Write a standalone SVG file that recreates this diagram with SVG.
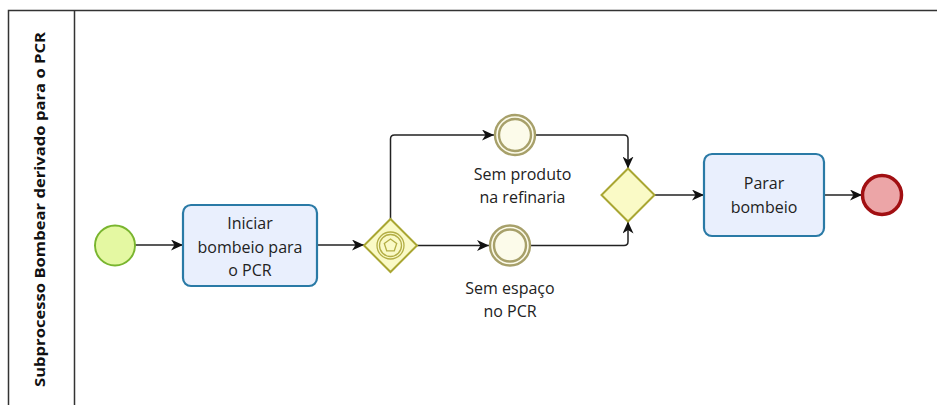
<svg xmlns="http://www.w3.org/2000/svg" width="937" height="405" viewBox="0 0 937 405">
  <style>
    .pool { fill: none; stroke: #333; stroke-width: 1.5; }
    .lbl { font-family: "Open Sans", "Liberation Sans", sans-serif; font-size: 16px; fill: #222; text-anchor: middle; }
    .pool-lbl { font-family: "Open Sans", "Liberation Sans", sans-serif; font-size: 14.5px; font-weight: bold; fill: #111; text-anchor: middle; }
    .task { fill: #e9effd; stroke: #2a7aa6; stroke-width: 2.2; }
    .gw { fill: #fafac6; stroke: #a9a632; stroke-width: 2; }
    .gw-mark { fill: none; stroke: #b3ae45; stroke-width: 1.3; }
    .ev-start { fill: #e4f8a2; stroke: #79b52f; stroke-width: 2; }
    .ev-mid { fill: #fcfbea; stroke: #a7a06a; stroke-width: 2.4; }
    .ev-end { fill: #eca5a7; stroke: #a10f12; stroke-width: 3.5; }
    .flow { fill: none; stroke: #222; stroke-width: 1.5; marker-end: url(#arrow); }
  </style>
  <defs>
    <marker id="arrow" markerUnits="userSpaceOnUse" markerWidth="13" markerHeight="11" refX="12" refY="5.5" orient="auto">
      <path d="M0,0 L12,5.5 L0,11 L3.5,5.5 Z" fill="#111"/>
    </marker>
  </defs>

  <!-- pool with its lane header -->
  <g id="pool">
    <path class="pool" d="M8.5,405 V10.5 H937"/>
    <path class="pool" d="M74.5,10.5 V405"/>
    <text class="pool-lbl" transform="translate(45,209.5) rotate(-90)" x="0" y="0" textLength="355" lengthAdjust="spacingAndGlyphs">Subprocesso Bombear derivado para o PCR</text>
  </g>

  <!-- sequence flows -->
  <g id="connectors">
    <path class="flow" d="M135,245 H183"/>
    <path class="flow" d="M317,245 H364"/>
    <path class="flow" d="M390.5,219 V139 Q390.5,135 394.5,135 H494"/>
    <path class="flow" d="M417,245.5 H489"/>
    <path class="flow" d="M536,135 H624 Q628,135 628,139 V168.5"/>
    <path class="flow" d="M531,245.5 H624 Q628,245.5 628,241.5 V221.5"/>
    <path class="flow" d="M654.5,195 H704"/>
    <path class="flow" d="M824,195 H862"/>
  </g>

  <g id="start">
    <circle class="ev-start" cx="115" cy="245.5" r="20"/>
  </g>

  <g id="task-iniciar">
    <rect class="task" x="183" y="205" width="134" height="81" rx="8"/>
    <text class="lbl" x="250" y="229">Iniciar</text>
    <text class="lbl" x="250" y="253">bombeio para</text>
    <text class="lbl" x="250" y="276">o PCR</text>
  </g>

  <g id="gateway-evento">
    <path class="gw" d="M390.5,219 L417,245.5 L390.5,272 L364,245.5 Z"/>
    <circle class="gw-mark" cx="390.5" cy="245.5" r="13.5"/>
    <circle class="gw-mark" cx="390.5" cy="245.5" r="11"/>
    <path class="gw-mark" d="M390.5,239 L396.7,243.5 L394.3,250.8 L386.7,250.8 L384.3,243.5 Z"/>
  </g>

  <g id="evento-sem-produto">
    <circle class="ev-mid" cx="515" cy="135" r="20"/>
    <circle class="ev-mid" cx="515" cy="135" r="16"/>
    <text class="lbl" x="522.5" y="180">Sem produto</text>
    <text class="lbl" x="522.5" y="203">na refinaria</text>
  </g>

  <g id="evento-sem-espaco">
    <circle class="ev-mid" cx="510" cy="245.5" r="20"/>
    <circle class="ev-mid" cx="510" cy="245.5" r="16"/>
    <text class="lbl" x="510" y="294">Sem espaço</text>
    <text class="lbl" x="510" y="317">no PCR</text>
  </g>

  <g id="gateway-juncao">
    <path class="gw" d="M628,168.5 L654.5,195 L628,221.5 L601.5,195 Z"/>
  </g>

  <g id="task-parar">
    <rect class="task" x="704" y="154" width="120" height="82" rx="8"/>
    <text class="lbl" x="764" y="189">Parar</text>
    <text class="lbl" x="764" y="213">bombeio</text>
  </g>

  <g id="end">
    <circle class="ev-end" cx="882" cy="195" r="19.5"/>
  </g>
</svg>
